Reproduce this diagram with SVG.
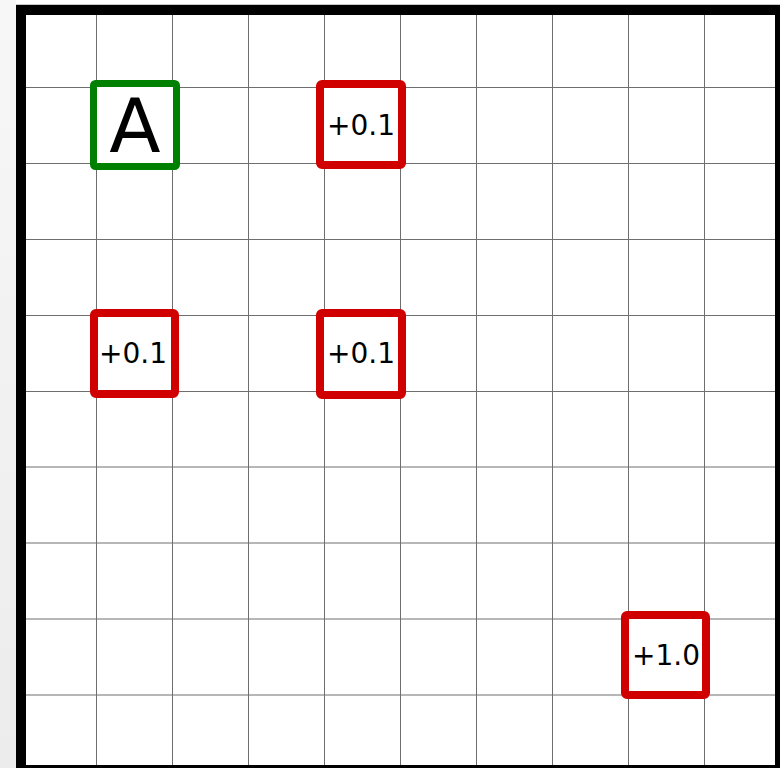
<svg xmlns="http://www.w3.org/2000/svg" width="780" height="768" viewBox="0 0 780 768">
<defs>
<linearGradient id="side" x1="0" y1="0" x2="0" y2="1">
<stop offset="0" stop-color="#f7f7f7"/><stop offset="1" stop-color="#ececec"/>
</linearGradient>
<style>
.grid line{stroke:#6e6e6e;stroke-width:1}
.red{fill:#fff;stroke:#d00000;stroke-width:8}
.green{fill:#fff;stroke:#008000;stroke-width:7}
.val{font-family:"DejaVu Sans",sans-serif;font-size:28px;fill:#000;text-anchor:middle}
.big{font-family:"DejaVu Sans",sans-serif;font-size:75px;fill:#000;text-anchor:middle}
</style>
</defs>
<rect x="0" y="0" width="780" height="768" fill="#fff"/>
<rect x="0" y="0" width="16" height="768" fill="url(#side)"/>
<line x1="16" y1="4.5" x2="780" y2="4.5" stroke="#c8c8c8" stroke-width="1"/>
<g class="grid">
<line x1="96.5" y1="10" x2="96.5" y2="768"/>
<line x1="172.5" y1="10" x2="172.5" y2="768"/>
<line x1="248.5" y1="10" x2="248.5" y2="768"/>
<line x1="324.5" y1="10" x2="324.5" y2="768"/>
<line x1="400.5" y1="10" x2="400.5" y2="768"/>
<line x1="476.5" y1="10" x2="476.5" y2="768"/>
<line x1="552.5" y1="10" x2="552.5" y2="768"/>
<line x1="628.5" y1="10" x2="628.5" y2="768"/>
<line x1="704.5" y1="10" x2="704.5" y2="768"/>
<line x1="21" y1="87.5" x2="780" y2="87.5"/>
<line x1="21" y1="163.5" x2="780" y2="163.5"/>
<line x1="21" y1="239.5" x2="780" y2="239.5"/>
<line x1="21" y1="315.5" x2="780" y2="315.5"/>
<line x1="21" y1="391.5" x2="780" y2="391.5"/>
<line x1="21" y1="467" x2="780" y2="467"/>
<line x1="21" y1="543" x2="780" y2="543"/>
<line x1="21" y1="619" x2="780" y2="619"/>
<line x1="21" y1="695" x2="780" y2="695"/>
</g>
<rect x="21" y="10" width="759" height="760" fill="none" stroke="#000" stroke-width="10"/>
<g id="start">
<rect class="green" x="93.5" y="83.5" width="83" height="83" rx="2"/>
<text class="big" x="135" y="152">A</text>
</g>
<g id="r1">
<rect class="red" x="320" y="84" width="82" height="81" rx="2"/>
<text class="val" x="361" y="135">+0.1</text>
</g>
<g id="r2">
<rect class="red" x="94" y="313" width="81" height="81" rx="2"/>
<text class="val" x="133" y="363">+0.1</text>
</g>
<g id="r3">
<rect class="red" x="320" y="313" width="82" height="82" rx="2"/>
<text class="val" x="361" y="363">+0.1</text>
</g>
<g id="r4">
<rect class="red" x="625" y="615" width="81" height="80" rx="2"/>
<text class="val" x="666" y="665">+1.0</text>
</g>
<g id="connectors"/>
</svg>
